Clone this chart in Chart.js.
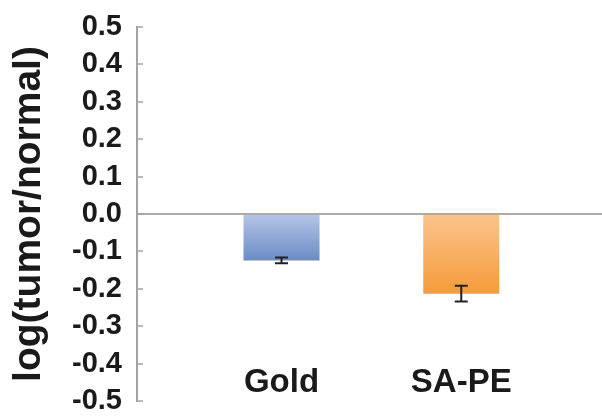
<!DOCTYPE html>
<html>
<head>
<meta charset="utf-8">
<script src="https://cdn.jsdelivr.net/npm/chart.js@4.4.1/dist/chart.umd.min.js"></script>
<style>
  html, body { margin: 0; padding: 0; background: #ffffff; }
  #wrap { width: 602px; height: 417px; }
</style>
</head>
<body>
<div id="wrap"><canvas id="chart" width="602" height="417"></canvas></div>
<script>
// Mean log ratio per probe, with its standard error
const categories = ['Gold', 'SA-PE'];
const values = [-0.124, -0.213];
const errors = [0.008, 0.021];
const yTicks = [-0.5, -0.4, -0.3, -0.2, -0.1, 0.0, 0.1, 0.2, 0.3, 0.4, 0.5];

const topColors = ['#b6c6e6', '#fac48c'];
const bottomColors = ['#6a8cc5', '#f59b3a'];

const FONT = '"Liberation Sans", Arial, Helvetica, sans-serif';

function barGradient(ctx) {
  const chart = ctx.chart;
  const i = ctx.dataIndex;
  if (!chart.chartArea || !chart.scales.y) return topColors[i];
  const y = chart.scales.y;
  const y0 = y.getPixelForValue(0);
  const y1 = y.getPixelForValue(values[i]);
  const g = chart.ctx.createLinearGradient(0, y0, 0, y1);
  g.addColorStop(0, topColors[i]);
  g.addColorStop(1, bottomColors[i]);
  return g;
}

function noPadding(scale) {
  scale.paddingTop = 0;
  scale.paddingBottom = 0;
  scale.paddingLeft = 0;
  scale.paddingRight = 0;
}

// Error bars drawn from the same value/error arrays through the y scale
const errorBars = {
  id: 'errorBars',
  afterDatasetsDraw(chart) {
    const { ctx } = chart;
    const y = chart.scales.y;
    const meta = chart.getDatasetMeta(0);
    ctx.save();
    ctx.strokeStyle = '#222222';
    ctx.lineWidth = 2;
    meta.data.forEach((bar, i) => {
      const x = bar.x;
      const hi = y.getPixelForValue(values[i] + errors[i]);
      const lo = y.getPixelForValue(values[i] - errors[i]);
      const cap = 6.5;
      ctx.beginPath();
      ctx.moveTo(x, hi); ctx.lineTo(x, lo);
      ctx.moveTo(x - cap, hi); ctx.lineTo(x + cap, hi);
      ctx.moveTo(x - cap, lo); ctx.lineTo(x + cap, lo);
      ctx.stroke();
    });
    ctx.restore();
  }
};

new Chart(document.getElementById('chart'), {
  type: 'bar',
  data: {
    datasets: [{
      data: categories.map((c, i) => ({ x: i + 1, y: values[i] })),
      backgroundColor: barGradient,
      borderWidth: 0,
      categoryPercentage: 1,
      barPercentage: 0.423
    }]
  },
  options: {
    responsive: false,
    animation: false,
    events: [],
    layout: { padding: { top: 27, bottom: 16, left: 0, right: 0 } },
    plugins: { legend: { display: false }, tooltip: { enabled: false } },
    scales: {
      x: {
        type: 'linear',
        offset: false,
        min: 0.196,
        max: 2.783,
        position: { y: -0.40 },
        afterFit(scale) { scale.height = 0; noPadding(scale); },
        grid: { display: false, drawTicks: false },
        border: { display: false },
        afterBuildTicks(scale) {
          scale.ticks = categories.map((c, i) => ({ value: i + 1 }));
        },
        ticks: {
          autoSkip: false,
          maxRotation: 0,
          padding: 0,
          color: '#1a1a1a',
          font: { family: FONT, size: 33, weight: 'bold' },
          callback: (v) => categories[v - 1]
        }
      },
      y: {
        min: -0.5,
        max: 0.5,
        afterBuildTicks(scale) {
          scale.ticks = yTicks.map(v => ({ value: v }));
        },
        afterFit(scale) { scale.width = 137; noPadding(scale); },
        grid: {
          drawOnChartArea: true,
          color: (c) => (c.tick && c.tick.value === 0 ? '#b0aaa6' : 'rgba(0,0,0,0)'),
          lineWidth: 2,
          drawTicks: true,
          tickLength: -6,
          tickColor: '#a8a29e',
          tickWidth: 1.5
        },
        border: { display: true, color: '#a8a29e', width: 2 },
        ticks: {
          autoSkip: false,
          padding: 21,
          color: '#1a1a1a',
          font: { family: FONT, size: 29, weight: 'bold', lineHeight: 1 },
          callback: (v) => Number(v).toFixed(1)
        },
        title: {
          display: true,
          text: 'log(tumor/normal)',
          color: '#1a1a1a',
          padding: { top: 6, bottom: 0 },
          font: { family: FONT, size: 39, weight: 'bold' }
        }
      }
    }
  },
  plugins: [errorBars]
});
</script>
</body>
</html>
